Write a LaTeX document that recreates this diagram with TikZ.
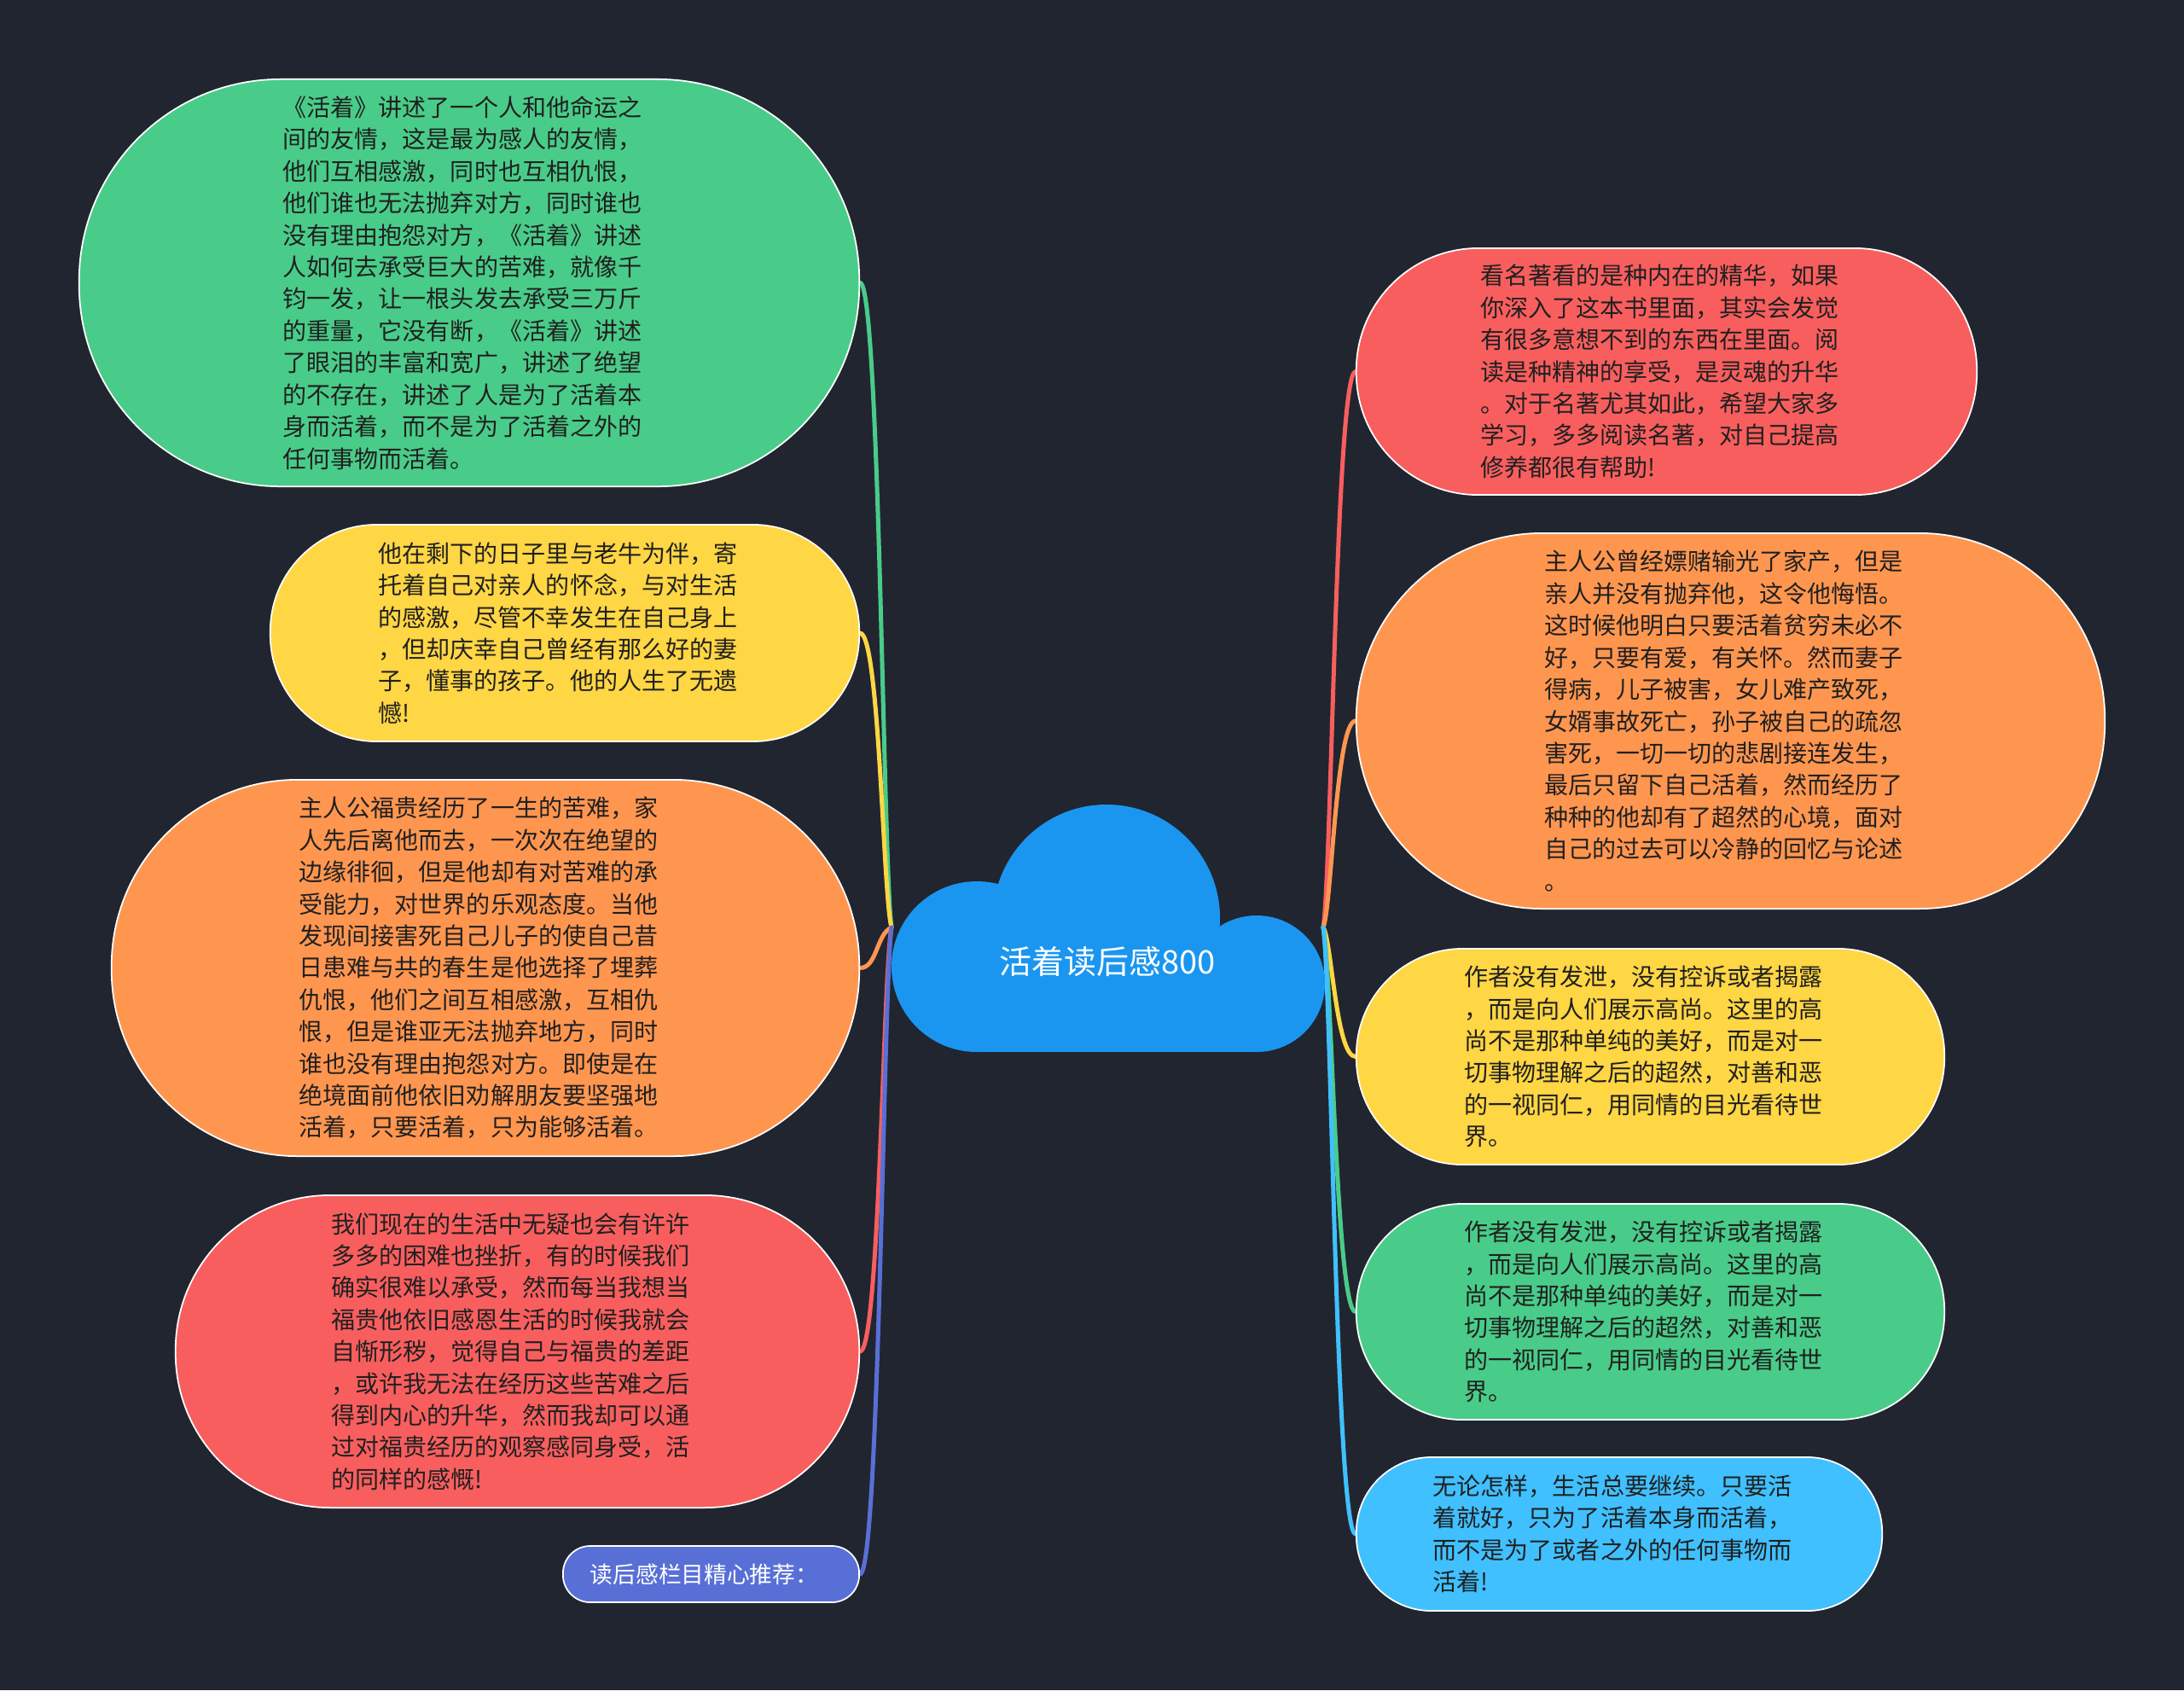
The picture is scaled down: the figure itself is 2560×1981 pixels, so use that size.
\documentclass[tikz,border=0pt]{standalone}
\usepackage{fontspec}
\newfontfamily\cjk{Noto Sans CJK SC}
\definecolor{bgc}{RGB}{33,37,48}
\definecolor{cG}{RGB}{73,204,137}
\definecolor{cY}{RGB}{255,214,68}
\definecolor{cO}{RGB}{255,150,80}
\definecolor{cR}{RGB}{248,94,94}
\definecolor{cB}{RGB}{88,112,214}
\definecolor{cC}{RGB}{64,192,255}
\definecolor{cloudc}{RGB}{26,150,240}
\definecolor{txtc}{RGB}{32,32,32}
\newcommand{\bubfont}{\cjk\fontsize{7.97pt}{10.64pt}\selectfont}
\newcommand{\padr}{\hspace*{0.16cm}}
\pgfdeclarelayer{backlayer}
\pgfdeclarelayer{connlayer}
\pgfsetlayers{backlayer,connlayer,main}
\tikzset{
  bub/.style={draw=white, line width=0.5pt, inner sep=0pt, align=left, text=txtc, font=\bubfont},
  conn/.style={line width=0.05cm, line cap=round},
}
\begin{document}
\begin{tikzpicture}[x=0.01cm, y=-0.01cm]
\useasboundingbox (0,0) rectangle (2560,1981);
\begin{pgfonlayer}{backlayer}
\fill[bgc] (0,0) rectangle (2560,1981);
\end{pgfonlayer}

% cloud
\fill[cloudc] (1145,1133) circle[radius=100];
\fill[cloudc] (1297,1076) circle[radius=133];
\fill[cloudc] (1473,1153) circle[radius=80];
\fill[cloudc] (1145,1100) rectangle (1473,1233);
\node[text=white, font=\cjk\fontsize{10.8pt}{13pt}\selectfont, inner sep=0pt] (root) at (1298,1127) {活着读后感800};
\coordinate (jl) at (1045,1087);
\coordinate (jr) at (1551,1087);

% left bubbles
\node[bub, fill=cG, minimum width=9.14cm, minimum height=4.77cm, rounded corners=2.36cm] (LG) at (550,331.5) {%
《活着》讲述了一个人和他命运之\padr\\
间的友情，这是最为感人的友情，\\
他们互相感激，同时也互相仇恨，\\
他们谁也无法抛弃对方，同时谁也\\
没有理由抱怨对方，《活着》讲述\\
人如何去承受巨大的苦难，就像千\\
钧一发，让一根头发去承受三万斤\\
的重量，它没有断，《活着》讲述\\
了眼泪的丰富和宽广，讲述了绝望\\
的不存在，讲述了人是为了活着本\\
身而活着，而不是为了活着之外的\\
任何事物而活着。};

\node[bub, fill=cY, minimum width=6.90cm, minimum height=2.54cm, rounded corners=1.25cm] (LY) at (662,742) {%
他在剩下的日子里与老牛为伴，寄\padr\\
托着自己对亲人的怀念，与对生活\\
的感激，尽管不幸发生在自己身上\\
，但却庆幸自己曾经有那么好的妻\\
子，懂事的孩子。他的人生了无遗\\
憾!};

\node[bub, fill=cO, minimum width=8.76cm, minimum height=4.41cm, rounded corners=2.18cm] (LO) at (569,1134.5) {%
主人公福贵经历了一生的苦难，家\padr\\
人先后离他而去，一次次在绝望的\\
边缘徘徊，但是他却有对苦难的承\\
受能力，对世界的乐观态度。当他\\
发现间接害死自己儿子的使自己昔\\
日患难与共的春生是他选择了埋葬\\
仇恨，他们之间互相感激，互相仇\\
恨，但是谁亚无法抛弃地方，同时\\
谁也没有理由抱怨对方。即使是在\\
绝境面前他依旧劝解朋友要坚强地\\
活着，只要活着，只为能够活着。};

\node[bub, fill=cR, minimum width=8.01cm, minimum height=3.66cm, rounded corners=1.81cm] (LR) at (606.5,1584) {%
我们现在的生活中无疑也会有许许\padr\\
多多的困难也挫折，有的时候我们\\
确实很难以承受，然而每当我想当\\
福贵他依旧感恩生活的时候我就会\\
自惭形秽，觉得自己与福贵的差距\\
，或许我无法在经历这些苦难之后\\
得到内心的升华，然而我却可以通\\
过对福贵经历的观察感同身受，活\\
的同样的感慨!};

\node[bub, fill=cB, text=white, font=\cjk\fontsize{7.6pt}{9pt}\selectfont, minimum width=3.47cm, minimum height=0.66cm, rounded corners=0.32cm] (LB) at (833.5,1845) {读后感栏目精心推荐：\padr};

% right bubbles
\node[bub, fill=cR, minimum width=7.27cm, minimum height=2.89cm, rounded corners=1.43cm] (RR) at (1953.5,435.5) {%
看名著看的是种内在的精华，如果\padr\\
你深入了这本书里面，其实会发觉\\
有很多意想不到的东西在里面。阅\\
读是种精神的享受，是灵魂的升华\\
。对于名著尤其如此，希望大家多\\
学习，多多阅读名著，对自己提高\\
修养都很有帮助!};

\node[bub, fill=cO, minimum width=8.77cm, minimum height=4.40cm, rounded corners=2.18cm] (RO) at (2028.5,845) {%
主人公曾经嫖赌输光了家产，但是\padr\\
亲人并没有抛弃他，这令他悔悟。\\
这时候他明白只要活着贫穷未必不\\
好，只要有爱，有关怀。然而妻子\\
得病，儿子被害，女儿难产致死，\\
女婿事故死亡，孙子被自己的疏忽\\
害死，一切一切的悲剧接连发生，\\
最后只留下自己活着，然而经历了\\
种种的他却有了超然的心境，面对\\
自己的过去可以冷静的回忆与论述\\
。};

\node[bub, fill=cY, minimum width=6.89cm, minimum height=2.53cm, rounded corners=1.25cm] (RY) at (1934.5,1238.5) {%
作者没有发泄，没有控诉或者揭露\padr\\
，而是向人们展示高尚。这里的高\\
尚不是那种单纯的美好，而是对一\\
切事物理解之后的超然，对善和恶\\
的一视同仁，用同情的目光看待世\\
界。};

\node[bub, fill=cG, minimum width=6.89cm, minimum height=2.53cm, rounded corners=1.25cm] (RG) at (1934.5,1537.5) {%
作者没有发泄，没有控诉或者揭露\padr\\
，而是向人们展示高尚。这里的高\\
尚不是那种单纯的美好，而是对一\\
切事物理解之后的超然，对善和恶\\
的一视同仁，用同情的目光看待世\\
界。};

\node[bub, fill=cC, minimum width=6.16cm, minimum height=1.80cm, rounded corners=0.88cm] (RC) at (1898,1798) {%
无论怎样，生活总要继续。只要活\padr\\
着就好，只为了活着本身而活着，\\
而不是为了或者之外的任何事物而\\
活着!};

% connectors
\begin{pgfonlayer}{connlayer}
\draw[conn, cG] (LG.east) .. controls +(23,0) and +(-10,-75) .. (jl);
\draw[conn, cY] (LY.east) .. controls +(23,0) and +(-10,-35) .. (jl);
\draw[conn, cO] (LO.east) .. controls +(20,0) and +(-18,8) .. (jl);
\draw[conn, cR] (LR.east) .. controls +(23,0) and +(-10,50) .. (jl);
\draw[conn, cB] (LB.east) .. controls +(23,0) and +(-10,76) .. (jl);
\draw[conn, cR] (RR.west) .. controls +(-23,0) and +(10,-65) .. (jr);
\draw[conn, cO] (RO.west) .. controls +(-23,0) and +(10,-24) .. (jr);
\draw[conn, cY] (RY.west) .. controls +(-23,0) and +(10,15) .. (jr);
\draw[conn, cG] (RG.west) .. controls +(-23,0) and +(10,45) .. (jr);
\draw[conn, cC] (RC.west) .. controls +(-23,0) and +(10,71) .. (jr);
\end{pgfonlayer}
\end{tikzpicture}
\end{document}
